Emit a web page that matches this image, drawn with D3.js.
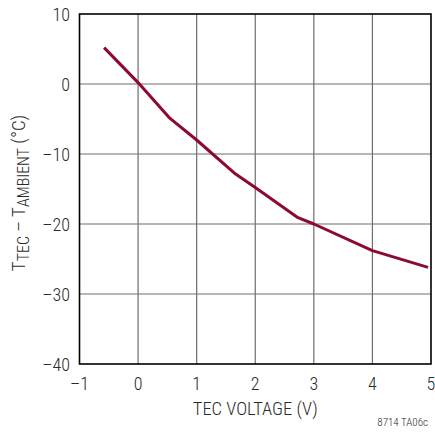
<!DOCTYPE html>
<html>
<head>
<meta charset="utf-8">
<script src="https://cdn.jsdelivr.net/npm/d3@7"></script>
<style>
  html, body { margin: 0; padding: 0; background: #fff; }
  svg text { font-family: "Roboto Condensed", "Liberation Sans Narrow", sans-serif; font-weight: 300; fill: #2a2a2a; }
</style>
</head>
<body>
<svg id="chart" width="435" height="433"></svg>
<script>
const voltage = [-0.58, 0, 0.53, 1.0, 1.64, 2.0, 2.73, 3.0, 4.0, 4.95];
const deltaT  = [5.2, 0.2, -4.8, -8.0, -12.7, -14.8, -19.1, -20.0, -23.8, -26.2];
const xTicks = [-1, 0, 1, 2, 3, 4, 5];
const yTicks = [-40, -30, -20, -10, 0, 10];

const svg = d3.select("#chart");
const m = { left: 79.5, right: 431, top: 14, bottom: 364 };
const x = d3.scaleLinear().domain([-1, 5]).range([m.left, m.right]);
const y = d3.scaleLinear().domain([-40, 10]).range([m.bottom, m.top]);
const fmt = d => d < 0 ? "\u2013" + Math.abs(d) : String(d);

// grid
svg.append("g").selectAll("line").data(xTicks.slice(1, -1)).join("line")
  .attr("x1", d => x(d)).attr("x2", d => x(d)).attr("y1", m.top).attr("y2", m.bottom)
  .attr("stroke", "#6e6e6e").attr("stroke-width", 1.2);
svg.append("g").selectAll("line").data(yTicks.slice(1, -1)).join("line")
  .attr("y1", d => y(d)).attr("y2", d => y(d)).attr("x1", m.left).attr("x2", m.right)
  .attr("stroke", "#6e6e6e").attr("stroke-width", 1.2);

// frame
svg.append("rect").attr("x", m.left).attr("y", m.top)
  .attr("width", m.right - m.left).attr("height", m.bottom - m.top)
  .attr("fill", "none").attr("stroke", "#000").attr("stroke-width", 1.6);

// curve
const pts = voltage.map((v, i) => [v, deltaT[i]]);
svg.append("path").datum(pts)
  .attr("d", d3.line().x(d => x(d[0])).y(d => y(d[1])))
  .attr("fill", "none").attr("stroke", "#8c0a2e").attr("stroke-width", 3)
  .attr("stroke-linejoin", "round");

// tick labels
svg.append("g").selectAll("text").data(xTicks).join("text")
  .attr("x", d => x(d)).attr("y", 390).attr("text-anchor", "middle")
  .attr("font-size", 18).text(fmt);
svg.append("g").selectAll("text").data(yTicks).join("text")
  .attr("x", 70).attr("y", d => y(d) + 6.5).attr("text-anchor", "end")
  .attr("font-size", 18).text(fmt);

// axis titles
svg.append("text").attr("x", (m.left + m.right) / 2).attr("y", 415)
  .attr("text-anchor", "middle").attr("font-size", 18.5).text("TEC VOLTAGE (V)");

const yt = svg.append("text").attr("transform", "translate(25,193) rotate(-90)")
  .attr("text-anchor", "middle").attr("font-size", 19);
yt.append("tspan").text("T");
yt.append("tspan").attr("font-size", 16).attr("dy", 4).text("TEC");
yt.append("tspan").attr("dy", -4).text(" \u2013 T");
yt.append("tspan").attr("font-size", 16).attr("dy", 4).text("AMBIENT");
yt.append("tspan").attr("dy", -4).text(" (\u00B0C)");

svg.append("text").attr("x", 428).attr("y", 426).attr("text-anchor", "end")
  .attr("font-size", 11).text("8714 TA06c");
</script>
</body>
</html>
